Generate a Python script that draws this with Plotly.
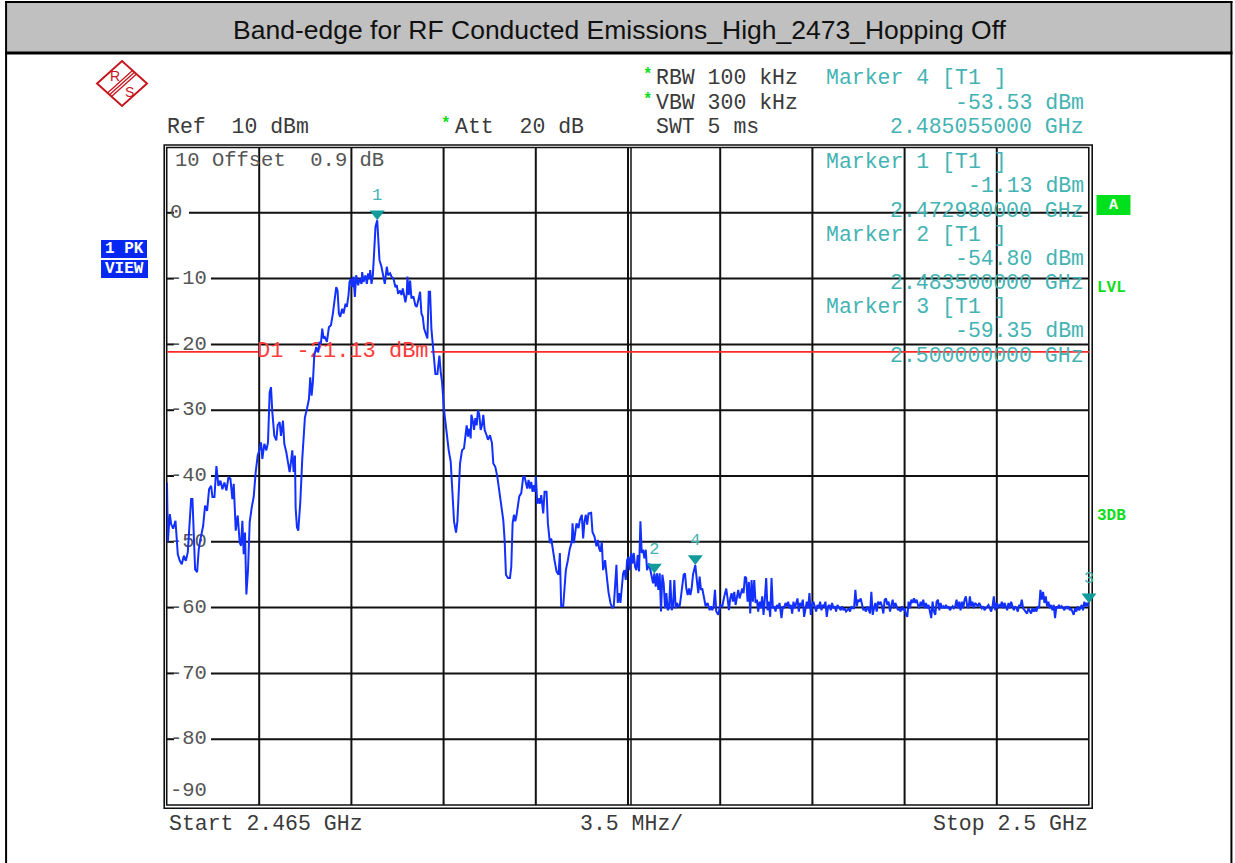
import plotly.graph_objects as go

# ---------------- data (frequency in MHz, level in dBm) ----------------
f_seg1 = [2465.000, 2465.031, 2465.107, 2465.158, 2465.234, 2465.322, 2465.410, 2465.486, 2465.562, 2465.638,
          2465.714, 2465.789, 2465.840, 2465.916, 2465.966, 2466.017, 2466.067, 2466.143, 2466.206, 2466.270,
          2466.371, 2466.446, 2466.522, 2466.598, 2466.674, 2466.724, 2466.800, 2466.876, 2466.952, 2467.028,
          2467.103, 2467.179, 2467.255, 2467.331, 2467.407, 2467.482, 2467.533, 2467.609, 2467.684, 2467.760,
          2467.811, 2467.861, 2467.912, 2467.962, 2468.013, 2468.076, 2468.139, 2468.215, 2468.291, 2468.367,
          2468.442, 2468.518, 2468.569, 2468.619, 2468.695, 2468.771, 2468.834, 2468.897, 2468.948, 2468.998,
          2469.074, 2469.150, 2469.200, 2469.276, 2469.327, 2469.403, 2469.453, 2469.529, 2469.605, 2469.655,
          2469.706, 2469.756, 2469.807, 2469.857, 2469.883, 2469.933, 2469.984, 2470.059, 2470.135, 2470.236,
          2470.312, 2470.388, 2470.438, 2470.489, 2470.539, 2470.590, 2470.666, 2470.742, 2470.792, 2470.843,
          2470.893, 2470.944, 2470.994, 2471.070, 2471.146, 2471.222, 2471.298, 2471.373, 2471.424, 2471.474,
          2471.525, 2471.575, 2471.651, 2471.702, 2471.777, 2471.828, 2471.891, 2471.929, 2471.980, 2472.030,
          2472.081, 2472.131, 2472.182, 2472.258, 2472.308, 2472.384, 2472.409, 2472.460, 2472.536, 2472.586,
          2472.637, 2472.687, 2472.713, 2472.763, 2472.814, 2472.864, 2472.915, 2472.980, 2473.016, 2473.066,
          2473.142, 2473.192, 2473.268, 2473.344, 2473.395, 2473.470, 2473.521, 2473.597, 2473.672, 2473.723,
          2473.773, 2473.849, 2473.900, 2473.950, 2474.001, 2474.051, 2474.102, 2474.127, 2474.178, 2474.228,
          2474.279, 2474.355, 2474.430, 2474.481, 2474.557, 2474.607, 2474.658, 2474.708, 2474.759, 2474.835,
          2474.885, 2474.936, 2474.986, 2475.037, 2475.087, 2475.138, 2475.188, 2475.264, 2475.340, 2475.390,
          2475.441]
l_seg1 = [-41.0, -50.0, -45.8, -47.3, -48.0, -46.8, -51.9, -52.9, -53.4, -52.1,
          -52.9, -51.6, -48.3, -43.5, -43.5, -48.0, -54.2, -54.6, -51.1, -49.6,
          -47.6, -44.5, -45.3, -42.0, -41.5, -43.2, -43.2, -38.5, -41.5, -40.7,
          -42.0, -41.0, -42.2, -40.2, -40.4, -43.5, -41.2, -48.3, -46.0, -50.1,
          -50.6, -46.8, -51.9, -48.6, -58.0, -54.2, -47.0, -44.8, -43.2, -39.4,
          -36.9, -35.9, -34.9, -37.4, -35.1, -36.1, -34.9, -27.3, -26.5, -30.3,
          -33.9, -34.6, -32.3, -31.8, -33.9, -31.6, -35.1, -36.4, -38.7, -39.4,
          -37.9, -36.1, -39.4, -36.9, -44.8, -47.8, -48.3, -44.0, -37.4, -31.1,
          -29.8, -28.3, -25.0, -27.8, -25.7, -21.7, -20.4, -21.2, -19.6, -19.9,
          -17.6, -19.1, -18.9, -19.6, -17.4, -17.1, -15.3, -12.5, -11.3, -11.8,
          -15.3, -15.8, -14.6, -15.3, -13.8, -14.3, -12.5, -10.5, -10.0, -11.3,
          -9.7, -12.8, -9.5, -11.0, -10.0, -10.8, -9.0, -10.5, -9.5, -10.8,
          -9.2, -10.0, -8.7, -10.8, -9.5, -5.9, -2.1, -1.13, -3.9, -7.2,
          -8.2, -9.5, -10.8, -8.2, -9.5, -9.2, -9.7, -10.0, -11.3, -11.0,
          -12.3, -11.8, -12.5, -11.5, -12.5, -13.6, -12.3, -9.7, -12.5, -10.3,
          -13.0, -12.7, -14.1, -14.3, -13.0, -12.0, -15.3, -15.8, -17.6, -18.4,
          -19.1, -12.0, -12.0, -17.6, -20.2, -21.7, -24.5, -24.5, -21.7, -24.2,
          -25.7]

f_seg2 = [2475.517, 2475.618, 2475.694, 2475.770, 2475.821, 2475.896, 2475.972, 2476.023, 2476.073, 2476.124,
          2476.200, 2476.275, 2476.326, 2476.376, 2476.427, 2476.477, 2476.528, 2476.553, 2476.604, 2476.654,
          2476.705, 2476.755, 2476.806, 2476.856, 2476.907, 2476.957, 2477.008, 2477.058, 2477.134, 2477.185,
          2477.261, 2477.336, 2477.387, 2477.463, 2477.539, 2477.614, 2477.690, 2477.766, 2477.816, 2477.867,
          2477.943, 2478.019, 2478.069, 2478.120, 2478.170, 2478.221, 2478.271, 2478.322, 2478.372, 2478.448,
          2478.524, 2478.574, 2478.625, 2478.675, 2478.726, 2478.777, 2478.827, 2478.878, 2478.928, 2478.979,
          2479.004, 2479.055, 2479.105, 2479.156, 2479.206, 2479.282, 2479.332, 2479.408, 2479.459, 2479.535,
          2479.585, 2479.636, 2479.711, 2479.787, 2479.863, 2479.913, 2479.964, 2480.040, 2480.090, 2480.141,
          2480.217, 2480.293, 2480.368, 2480.394, 2480.444, 2480.495, 2480.545, 2480.621, 2480.672, 2480.747,
          2480.798, 2480.848, 2480.899, 2480.949, 2481.000, 2481.101, 2481.152, 2481.228, 2481.303, 2481.354,
          2481.404, 2481.455, 2481.505, 2481.556, 2481.632, 2481.682, 2481.758, 2481.834, 2481.910, 2481.960,
          2482.011, 2482.061, 2482.112, 2482.162, 2482.213, 2482.263, 2482.314, 2482.364, 2482.415, 2482.466,
          2482.516, 2482.567, 2482.617, 2482.668, 2482.718, 2482.769, 2482.819, 2482.870, 2482.920, 2482.971,
          2483.021, 2483.072, 2483.122, 2483.173, 2483.224, 2483.299, 2483.375, 2483.451, 2483.500, 2483.552,
          2483.602, 2483.653, 2483.703, 2483.754, 2483.804, 2483.855, 2483.906, 2483.956, 2484.007, 2484.057,
          2484.108, 2484.158, 2484.209, 2484.259, 2484.310, 2484.360, 2484.411, 2484.461, 2484.512, 2484.563,
          2484.613, 2484.664, 2484.714, 2484.765, 2484.815, 2484.866, 2484.916, 2484.967, 2485.055, 2485.118,
          2485.169, 2485.219, 2485.270, 2485.320, 2485.371, 2485.447, 2485.522, 2485.598, 2485.649, 2485.699,
          2485.750, 2485.801, 2485.851, 2485.927]
l_seg2 = [-30.0, -34.0, -36.1, -37.8, -41.6, -46.9, -48.6, -46.9, -42.6, -38.1,
          -36.1, -35.8, -34.0, -32.3, -34.0, -32.8, -34.3, -30.7, -31.5, -33.0,
          -31.2, -32.3, -30.0, -30.7, -33.0, -32.3, -30.7, -33.0, -33.8, -34.5,
          -33.8, -35.0, -38.1, -38.6, -40.1, -42.1, -44.2, -46.7, -49.7, -55.0,
          -55.5, -55.5, -53.8, -47.2, -45.9, -46.9, -45.9, -44.2, -43.1, -42.6,
          -40.1, -40.1, -40.9, -41.9, -40.6, -41.9, -40.9, -42.4, -41.4, -42.4,
          -40.1, -44.2, -43.4, -44.2, -42.9, -45.7, -42.4, -42.4, -47.2, -50.2,
          -49.5, -51.0, -52.8, -54.5, -55.0, -51.7, -59.8, -59.8, -57.3, -54.3,
          -52.8, -51.0, -50.0, -47.2, -50.2, -48.5, -47.2, -47.9, -46.7, -45.9,
          -49.5, -46.9, -45.9, -47.4, -45.7, -45.6, -48.5, -49.2, -50.7, -49.7,
          -51.0, -51.5, -50.0, -54.3, -52.8, -54.8, -57.6, -59.3, -60.1, -59.8,
          -57.3, -53.5, -59.3, -57.8, -59.3, -56.8, -54.8, -54.3, -55.8, -52.8,
          -52.3, -54.3, -51.7, -53.3, -51.7, -53.8, -54.3, -52.0, -54.5, -46.9,
          -51.7, -51.2, -52.5, -51.2, -54.3, -53.3, -54.8, -56.3, -54.80, -56.8,
          -54.8, -57.3, -54.8, -60.6, -55.0, -56.3, -60.1, -57.8, -60.4, -60.1,
          -55.8, -60.4, -59.8, -55.8, -60.1, -59.3, -59.8, -59.8, -58.3, -56.3,
          -55.0, -54.8, -57.1, -58.1, -57.1, -58.1, -57.1, -55.0, -53.53, -56.0,
          -57.8, -55.3, -57.3, -57.1, -58.3, -59.8, -59.3, -60.4, -59.8, -60.4,
          -59.8, -57.3, -60.6, -61.1]

f_seg3 = [2486.003, 2486.079, 2486.155,
          2486.230, 2486.281, 2486.331, 2486.382, 2486.432, 2486.483, 2486.534, 2486.584, 2486.635, 2486.685,
          2486.736, 2486.786, 2486.837, 2486.887, 2486.938, 2486.988, 2487.039, 2487.089, 2487.140, 2487.190,
          2487.241, 2487.292, 2487.342, 2487.393, 2487.443, 2487.494, 2487.544, 2487.595, 2487.645, 2487.696,
          2487.746, 2487.797, 2487.847, 2487.898, 2487.949, 2487.999, 2488.050, 2488.100, 2488.151, 2488.201,
          2488.252,
          2488.327, 2488.378, 2488.428, 2488.479, 2488.529, 2488.580, 2488.630, 2488.681, 2488.732, 2488.782,
          2488.833, 2488.883, 2488.934, 2488.984, 2489.035, 2489.085, 2489.136, 2489.186, 2489.237, 2489.287,
          2489.338, 2489.388, 2489.439, 2489.490, 2489.540, 2489.591, 2489.641, 2489.692, 2489.742, 2489.793,
          2489.843, 2489.894, 2489.944, 2489.995, 2490.045, 2490.096, 2490.146, 2490.197, 2490.248, 2490.298,
          2490.349, 2490.399, 2490.450]
l_seg3 = [-59.6, -59.8, -58.3,
          -57.1, -58.6, -60.4, -58.6, -57.8, -59.1, -57.6, -59.6, -58.1, -57.3,
          -58.6, -57.8, -57.1, -57.8, -55.3, -55.5, -59.1, -56.1, -60.9, -55.8,
          -59.1, -55.8, -59.3, -58.8, -60.6, -59.1, -60.1, -58.3, -61.1, -58.6,
          -55.5, -60.4, -59.1, -61.4, -55.5, -60.1, -59.8, -60.6, -59.6, -60.1,
          -59.3,
          -61.6, -59.8, -60.1, -59.3, -59.8, -59.1, -60.1, -59.6, -60.9, -59.1,
          -60.1, -59.3, -58.6, -60.6, -59.3, -59.8, -58.8, -61.4, -60.1, -59.1,
          -60.1, -57.8, -61.1, -59.6, -59.1, -60.1, -60.6, -59.6, -60.1, -59.1,
          -60.4, -59.6, -59.8, -59.1, -61.4, -59.8, -59.6, -60.4, -59.3, -60.1,
          -59.8, -60.6, -59.6]

f_seg4 = [2490.526, 2490.576, 2490.627, 2490.677, 2490.728, 2490.778, 2490.829, 2490.879, 2490.930, 2490.980,
          2491.031, 2491.081, 2491.132, 2491.183, 2491.233, 2491.284, 2491.334, 2491.385, 2491.435, 2491.486,
          2491.536, 2491.587, 2491.637, 2491.688, 2491.738, 2491.789, 2491.839, 2491.890, 2491.941, 2491.991,
          2492.042, 2492.092, 2492.143, 2492.193, 2492.244, 2492.294, 2492.345, 2492.395, 2492.446, 2492.496,
          2492.547, 2492.597, 2492.648, 2492.699, 2492.749, 2492.800, 2492.850, 2492.901, 2492.951, 2493.002,
          2493.052, 2493.103, 2493.153, 2493.204, 2493.254, 2493.305, 2493.355, 2493.406, 2493.457, 2493.507,
          2493.558, 2493.608, 2493.659, 2493.709, 2493.760, 2493.810, 2493.861, 2493.911, 2493.962, 2494.012,
          2494.063, 2494.113, 2494.164, 2494.215, 2494.265, 2494.316, 2494.366, 2494.417, 2494.467, 2494.518,
          2494.568, 2494.619, 2494.669, 2494.720, 2494.770, 2494.821, 2494.871, 2494.922, 2494.973, 2495.023,
          2495.074, 2495.124, 2495.175, 2495.225, 2495.276, 2495.326, 2495.377, 2495.427, 2495.478, 2495.528,
          2495.579, 2495.629, 2495.680, 2495.731, 2495.781, 2495.832, 2495.882, 2495.933, 2495.983, 2496.034,
          2496.084, 2496.135, 2496.185, 2496.236, 2496.286, 2496.337, 2496.387, 2496.438, 2496.489, 2496.539,
          2496.590, 2496.640, 2496.691, 2496.741, 2496.792, 2496.842, 2496.893, 2496.943, 2496.994, 2497.044,
          2497.095, 2497.145, 2497.196, 2497.247, 2497.297, 2497.348, 2497.398, 2497.449, 2497.499, 2497.550,
          2497.600, 2497.651, 2497.701, 2497.752, 2497.802, 2497.853, 2497.903, 2497.954, 2498.005, 2498.055,
          2498.106, 2498.156, 2498.207, 2498.257, 2498.308, 2498.358, 2498.409, 2498.459, 2498.510, 2498.560,
          2498.611, 2498.661, 2498.712, 2498.763, 2498.813, 2498.864, 2498.914, 2498.965, 2499.015, 2499.066,
          2499.116, 2499.167, 2499.217, 2499.268, 2499.318, 2499.369, 2499.419, 2499.470, 2499.521, 2499.571,
          2499.622, 2499.672, 2499.723, 2499.773, 2499.824, 2499.874, 2499.925, 2499.975, 2500.000]
l_seg4 = [-60.1, -60.4, -59.8, -60.4, -60.1, -60.6, -60.4, -60.1, -60.6, -59.8,
          -60.1, -60.1, -57.3, -59.8, -58.8, -59.1, -58.6, -59.8, -60.4, -60.1,
          -60.6, -59.8, -60.4, -60.9, -57.6, -61.1, -60.1, -59.3, -60.6, -59.1,
          -59.6, -59.1, -59.8, -60.9, -58.8, -58.6, -59.6, -59.1, -60.6, -59.6,
          -58.8, -60.1, -59.3, -59.8, -60.4, -60.1, -60.6, -59.8, -60.4, -60.1,
          -61.1, -61.4, -59.1, -60.1, -58.8, -59.3, -58.6, -59.3, -58.8, -59.6,
          -60.1, -59.1, -59.8, -58.8, -60.1, -59.3, -60.1, -59.6, -60.4, -61.6,
          -59.1, -60.6, -61.1, -59.1, -58.8, -60.4, -59.3, -60.1, -59.8, -60.1,
          -59.6, -60.1, -59.8, -60.4, -60.1, -59.8, -60.1, -59.8, -58.8, -60.1,
          -59.1, -60.4, -59.1, -60.1, -58.8, -58.3, -59.8, -60.1, -58.3, -59.8,
          -59.1, -60.1, -59.3, -59.6, -59.8, -59.3, -59.6, -60.1, -59.8, -60.4,
          -60.1, -59.8, -59.6, -60.1, -60.6, -59.8, -58.3, -60.4, -59.3, -60.1,
          -59.6, -59.8, -59.1, -60.1, -59.3, -59.8, -60.4, -59.3, -60.1, -59.1,
          -59.8, -60.4, -59.8, -60.1, -60.6, -59.6, -59.8, -58.8, -60.1, -60.4,
          -60.6, -60.9, -60.1, -60.6, -60.9, -60.1, -60.6, -60.1, -60.6, -59.8,
          -60.1, -57.3, -58.8, -57.6, -59.3, -58.3, -59.8, -59.1, -60.1, -59.6,
          -60.4, -59.6, -61.6, -59.8, -60.1, -59.6, -60.1, -59.8, -60.1, -60.4,
          -59.8, -60.1, -59.8, -60.4, -60.1, -60.6, -61.1, -60.1, -60.6, -59.8,
          -60.4, -60.1, -59.6, -60.4, -59.1, -59.8, -59.3, -59.8, -59.35]

freq_mhz = f_seg1 + f_seg2 + f_seg3 + f_seg4
level_dbm = l_seg1 + l_seg2 + l_seg3 + l_seg4
n = min(len(freq_mhz), len(level_dbm))
freq_mhz, level_dbm = freq_mhz[:n], level_dbm[:n]

marker_ids = ["1", "2", "3", "4"]
marker_freq = [2472.980, 2483.500, 2500.000, 2485.055]
marker_lvl = [-1.13, -54.80, -59.35, -53.53]

display_line_d1 = -21.13
y_ticks = [0, -10, -20, -30, -40, -50, -60, -70, -80]
x_start, x_stop, x_div = 2465.0, 2500.0, 3.5
y_bot, y_top = -90.0, 10.0

# ---------------- layout geometry (pixels) ----------------
W, H = 1235, 863
L, R, T, B = 167.0, 1089.5, 147.0, 805.0
MONO = "Liberation Mono"
SANS = "Liberation Sans"
GRAY = "#3a3a3a"
TEAL = "#43b3b3"
TRI = "#139a9a"
GREEN = "#10dd20"
FS = 21.5


def px(x):
    return (x - L) / (R - L)


def py(y):
    return (B - y) / (B - T)


def fx(p):
    return x_start + (p - L) / (R - L) * (x_stop - x_start)


def fy(p):
    return y_top - (p - T) / (B - T) * (y_top - y_bot)


fig = go.Figure()
shapes = []
ann = []


def hline_px(x0, x1, y, color="#111", w=2, layer="below"):
    shapes.append(dict(type="line", xref="paper", yref="paper", x0=px(x0), x1=px(x1),
                       y0=py(y), y1=py(y), line=dict(color=color, width=w), layer=layer))


def vline_px(x, y0, y1, color="#111", w=2, layer="below"):
    shapes.append(dict(type="line", xref="paper", yref="paper", x0=px(x), x1=px(x),
                       y0=py(y0), y1=py(y1), line=dict(color=color, width=w), layer=layer))


def rect_px(x0, y0, x1, y1, fill=None, line_color=None, w=0, layer="below"):
    d = dict(type="rect", xref="paper", yref="paper", x0=px(x0), x1=px(x1),
             y0=py(y1), y1=py(y0), layer=layer)
    if fill:
        d["fillcolor"] = fill
    d["line"] = dict(color=line_color or "rgba(0,0,0,0)", width=w)
    shapes.append(d)


def text_px(x, y, s, color=GRAY, size=FS, anchor="left", family=MONO, bold=False):
    ann.append(dict(xref="paper", yref="paper", x=px(x), y=py(y), text=("<b>%s</b>" % s) if bold else s,
                    showarrow=False, xanchor=anchor, yanchor="middle",
                    font=dict(family=family, size=size, color=color), borderpad=0))


# --- outer frame and title bar ---
rect_px(7, 3, 1231, 52, fill="#c0c0c0")
hline_px(5, 1233, 53, color="#000", w=3)
hline_px(5, 1233, 2, color="#000", w=2)
vline_px(6, 1, 863, color="#000", w=2)
vline_px(1232, 1, 863, color="#000", w=2)
text_px(620, 30, "Band-edge for RF Conducted Emissions_High_2473_Hopping Off",
        color="#111", size=26.5, anchor="center", family=SANS)

# --- grid ---
k = 1
while x_start + k * x_div < x_stop - 1e-6:
    xv = x_start + k * x_div
    shapes.append(dict(type="line", xref="x", yref="paper", x0=xv, x1=xv, y0=0, y1=1,
                       line=dict(color="#111", width=2), layer="below"))
    k += 1
# display line next to the centre grid line
xc = (x_start + x_stop) / 2
xc_px = L + (xc - x_start) / (x_stop - x_start) * (R - L)
vline_px(xc_px + 3, T, B, color="#111", w=1.5)

for v in y_ticks:
    gap_end = 189 if v == 0 else 211
    yv_px = T + (y_top - v) / (y_top - y_bot) * (B - T)
    hline_px(L, 174, yv_px)
    hline_px(gap_end, R, yv_px)

# --- double border of the diagram ---
rect_px(166.7, 147.5, 1089.3, 805.0, line_color="#111", w=1.6)
rect_px(164.2, 145.0, 1092.7, 808.3, line_color="#111", w=1.6)

# --- D1 line (with a gap for its label) ---
d1_px = T + (y_top - display_line_d1) / (y_top - y_bot) * (B - T)
hline_px(L, 258, d1_px, color="#ff2a2a", w=1.8)
hline_px(431, R, d1_px, color="#ff2a2a", w=1.8)

# --- text traces under the spectrum ---
lab_y = list(y_ticks) + [fy(791)]
lab_t = ["%d" % v for v in y_ticks] + ["-90"]
fig.add_trace(go.Scatter(x=[fx(170)] * len(lab_y), y=lab_y, mode="text", text=lab_t,
                         textposition="middle right", cliponaxis=False, hoverinfo="skip",
                         textfont=dict(family=MONO, size=20.5, color="#555")))
fig.add_trace(go.Scatter(x=[fx(257)], y=[display_line_d1], mode="text",
                         text=["D1 -%.2f dBm" % abs(display_line_d1)],
                         textposition="middle right", cliponaxis=False, hoverinfo="skip",
                         textfont=dict(family=MONO, size=22, color="#ff3b3b")))

# --- spectrum trace ---
fig.add_trace(go.Scatter(x=freq_mhz, y=level_dbm, mode="lines",
                         line=dict(color="#1230ff", width=2), hoverinfo="skip"))

# --- markers ---
tri_size = 13
off_db = (tri_size / 2) / ((B - T) / (y_top - y_bot))
fig.add_trace(go.Scatter(x=marker_freq, y=[v + off_db for v in marker_lvl], mode="markers+text",
                         text=marker_ids, textposition="top center", cliponaxis=False,
                         marker=dict(symbol="triangle-down", size=tri_size, color=TRI,
                                     line=dict(width=0)),
                         textfont=dict(family=MONO, size=17, color=TEAL), hoverinfo="skip"))

# --- header texts ---
text_px(166, 127, "Ref  10 dBm")
text_px(440, 124, "*", color=GREEN, size=16, bold=True)
text_px(454, 127, "Att  20 dB")
text_px(642, 75, "*", color=GREEN, size=16, bold=True)
text_px(655, 78, "RBW 100 kHz")
text_px(642, 100, "*", color=GREEN, size=16, bold=True)
text_px(655, 103, "VBW 300 kHz")
text_px(655, 127, "SWT 5 ms")

# marker info blocks
text_px(825, 78, "Marker %s [T1 ]" % marker_ids[3], color=TEAL)
text_px(1085, 103, "%.2f dBm" % marker_lvl[3], color=TEAL, anchor="right")
text_px(1085, 127, "%.9f GHz" % (marker_freq[3] / 1000), color=TEAL, anchor="right")
for i, y0 in zip([0, 1, 2], [162, 234.5, 307]):
    text_px(825, y0, "Marker %s [T1 ]" % marker_ids[i], color=TEAL)
    text_px(1085, y0 + 24.3, "%.2f dBm" % marker_lvl[i], color=TEAL, anchor="right")
    text_px(1085, y0 + 48.6, "%.9f GHz" % (marker_freq[i] / 1000), color=TEAL, anchor="right")

text_px(174, 160, "10 Offset  0.9 dB", color="#555", size=20.5)

# bottom
text_px(168, 824, "Start %.3f GHz" % (x_start / 1000))
text_px(579, 824, "%.1f MHz/" % x_div)
text_px(1089, 824, "Stop %.1f GHz" % (x_stop / 1000), anchor="right")

# left status boxes
rect_px(101, 240, 147, 258, fill="#0628f2", layer="above")
rect_px(101, 260, 148, 278, fill="#0628f2", layer="above")
text_px(124, 249, "1 PK", color="white", size=16, anchor="center", bold=True)
text_px(124.5, 269, "VIEW", color="white", size=16, anchor="center", bold=True)

# right status labels
rect_px(1097, 195, 1131, 215, fill="#00e01c", layer="above")
text_px(1114, 205, "A", color="white", size=15, anchor="center", bold=True)
text_px(1097, 288, "LVL", color=GREEN, size=16, bold=True)
text_px(1097, 516, "3DB", color=GREEN, size=16, bold=True)

# --- R&S logo ---
RED = "#c8161e"
pts = [(97, 83.5), (122, 61), (147, 83.5), (122, 106)]
path = "M " + " L ".join("%.5f,%.5f" % (px(a), py(b)) for a, b in pts) + " Z"
shapes.append(dict(type="path", xref="paper", yref="paper", path=path,
                   line=dict(color=RED, width=2), layer="above"))
for d in (-2.6, 0.0, 2.6):
    shapes.append(dict(type="line", xref="paper", yref="paper",
                       x0=px(109.5 + 0.67 * d), y0=py(94.75 + 0.74 * d),
                       x1=px(134.5 + 0.67 * d), y1=py(72.25 + 0.74 * d),
                       line=dict(color=RED, width=1.3), layer="above"))
text_px(114.5, 76, "R", color=RED, size=14, anchor="center", family=SANS)
text_px(129.5, 92, "S", color=RED, size=14, anchor="center", family=SANS)

fig.update_layout(
    width=W, height=H,
    margin=dict(l=L, r=W - R, t=T, b=H - B, pad=0),
    paper_bgcolor="white", plot_bgcolor="white",
    showlegend=False,
    xaxis=dict(range=[x_start, x_stop], visible=False, fixedrange=True),
    yaxis=dict(range=[y_bot, y_top], visible=False, fixedrange=True),
    shapes=shapes, annotations=ann,
)

fig.write_html("out.html", config={"displayModeBar": False},
               post_script="document.body.style.margin='0px';")
